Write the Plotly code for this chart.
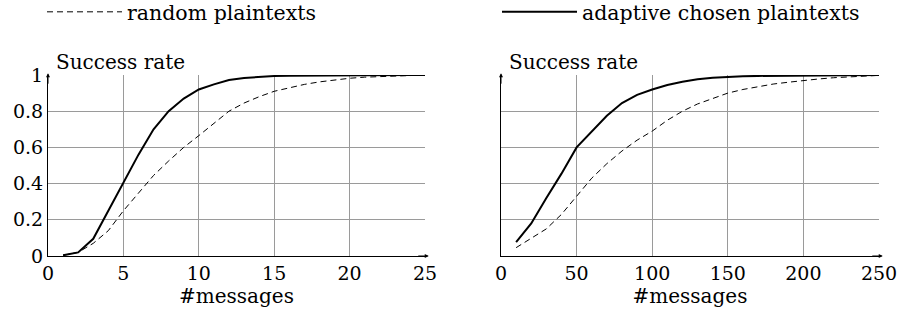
import plotly.graph_objects as go

# Left panel: #messages 1..25
x_left = list(range(1, 26))
adaptive_left = [0.004, 0.02, 0.095, 0.25, 0.41, 0.56, 0.70, 0.80, 0.87, 0.92, 0.948, 0.972, 0.984, 0.99, 0.994,
                 0.996, 0.997, 0.998, 0.998, 0.999, 0.999, 0.999, 1.0, 1.0, 1.0]
random_left = [0.004, 0.02, 0.07, 0.14, 0.25, 0.345, 0.445, 0.525, 0.60, 0.665, 0.735, 0.80, 0.845, 0.88, 0.91,
               0.93, 0.948, 0.962, 0.973, 0.982, 0.988, 0.992, 0.995, 0.997, 0.999]

# Right panel: #messages 10..250
x_right = list(range(10, 260, 10))
adaptive_right = [0.077, 0.18, 0.32, 0.455, 0.60, 0.69, 0.775, 0.845, 0.89, 0.92, 0.945, 0.963, 0.977, 0.985, 0.99,
                  0.993, 0.995, 0.996, 0.997, 0.998, 0.998, 0.999, 0.999, 1.0, 1.0]
random_right = [0.046, 0.096, 0.15, 0.23, 0.33, 0.43, 0.51, 0.58, 0.64, 0.69, 0.75, 0.80, 0.84, 0.87, 0.90,
                0.92, 0.935, 0.95, 0.96, 0.97, 0.978, 0.985, 0.99, 0.995, 0.998]

series_names = ["random plaintexts", "adaptive chosen plaintexts"]
x_ticks_left = [0, 5, 10, 15, 20, 25]
x_ticks_right = [0, 50, 100, 150, 200, 250]
y_ticks = [0, 0.2, 0.4, 0.6, 0.8, 1]
y_tick_labels = ["0", "0.2", "0.4", "0.6", "0.8", "1"]
y_title = "Success rate"
x_title = "#messages"

FONT = "DejaVu Serif"
TXT = 20
LEG = 20.5
TICK = 19
W, H = 905, 322
L, R, T, B = 48, 26, 75, 66
plot_w = W - L - R
d1 = [0, (425 - L) / plot_w]
d2 = [(501 - L) / plot_w, 1]

fig = go.Figure()
dash_style = dict(color="black", width=1, dash="6px,4px")
solid_style = dict(color="black", width=2)

fig.add_trace(go.Scatter(x=x_left, y=random_left, mode="lines", line=dash_style,
                         name=series_names[0], xaxis="x", yaxis="y", legend="legend", showlegend=True))
fig.add_trace(go.Scatter(x=x_left, y=adaptive_left, mode="lines", line=solid_style,
                         name=series_names[1], xaxis="x", yaxis="y", showlegend=False))
fig.add_trace(go.Scatter(x=x_right, y=random_right, mode="lines", line=dash_style,
                         name=series_names[0], xaxis="x2", yaxis="y2", showlegend=False))
fig.add_trace(go.Scatter(x=x_right, y=adaptive_right, mode="lines", line=solid_style,
                         name=series_names[1], xaxis="x2", yaxis="y2", legend="legend2", showlegend=True))

common_x = dict(showgrid=True, gridcolor="#9a9a9a", gridwidth=1, showline=True, linecolor="black", linewidth=1,
                zeroline=False, ticks="", automargin=False, tickfont=dict(family=FONT, size=TICK, color="black"),
                title=dict(text=x_title, font=dict(family=FONT, size=TXT, color="black"), standoff=5))
common_y = dict(range=[0, 1], showgrid=True, gridcolor="#9a9a9a", gridwidth=1, showline=True, linecolor="black",
                linewidth=1, zeroline=False, ticks="", automargin=False, tickvals=y_ticks, ticktext=y_tick_labels,
                tickfont=dict(family=FONT, size=TICK, color="black"))

fig.update_layout(
    width=W, height=H,
    margin=dict(l=L, r=R, t=T, b=B, pad=0, autoexpand=False),
    paper_bgcolor="white", plot_bgcolor="white",
    font=dict(family=FONT, size=TICK, color="black"),
    xaxis=dict(domain=d1, range=[0, 25], tickvals=x_ticks_left, **common_x),
    xaxis2=dict(domain=d2, range=[0, 250], tickvals=x_ticks_right, anchor="y2", **common_x),
    yaxis=dict(anchor="x", **common_y),
    yaxis2=dict(anchor="x2", showticklabels=False, **common_y),
    legend=dict(xref="container", yref="container", x=42 / W, y=1 - 12 / H, xanchor="left", yanchor="middle",
                itemwidth=75, font=dict(family=FONT, size=LEG, color="black"), bgcolor="rgba(0,0,0,0)"),
    legend2=dict(xref="container", yref="container", x=497 / W, y=1 - 12 / H, xanchor="left", yanchor="middle",
                 itemwidth=75, font=dict(family=FONT, size=LEG, color="black"), bgcolor="rgba(0,0,0,0)"),
    showlegend=True,
)

# Axis titles "Success rate" at the top of each y axis
for xd, yd in (("x domain", "y domain"), ("x2 domain", "y2 domain")):
    fig.add_annotation(text=y_title, xref=xd, yref=yd, x=0, y=1, xanchor="left", yanchor="bottom",
                       xshift=6, yshift=-1, showarrow=False, font=dict(family=FONT, size=TXT, color="black"))
    # arrow tips on axis ends
    fig.add_annotation(xref=xd, yref=yd, x=1.01, y=0, ax=-12, ay=0, axref="pixel", ayref="pixel",
                       text="", showarrow=True, arrowhead=2, arrowsize=0.8, arrowwidth=1, arrowcolor="black")
    fig.add_annotation(xref=xd, yref=yd, x=0, y=1.01, ax=0, ay=12, text="", showarrow=True,
                       arrowhead=2, arrowsize=0.8, arrowwidth=1, arrowcolor="black")

fig.write_html("out.html", config={"displayModeBar": False},
               post_script="document.body.style.margin='0px';")
